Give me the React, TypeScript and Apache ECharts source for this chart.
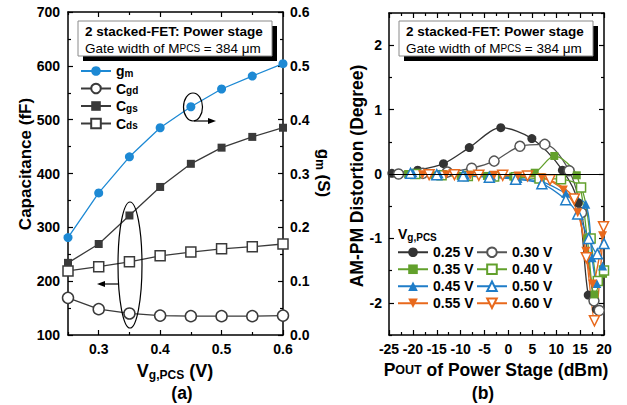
import React, { useEffect, useRef } from "react";
import * as echarts from "echarts";

const FONT = "'Liberation Sans', Arial, Helvetica, sans-serif";

// ---------- Panel (a) data ----------
const vgValues = [0.25, 0.3, 0.35, 0.4, 0.45, 0.5, 0.55, 0.6];
const gmValues = [0.181, 0.264, 0.331, 0.385, 0.424, 0.457, 0.481, 0.504];
const cgdValues = [169, 148, 140, 136, 135, 135, 135, 136];
const cgsValues = [234, 269, 322, 375, 418, 448, 468, 485];
const cdsValues = [219, 227, 236, 247, 254, 260, 264, 269];
const vgMajorTicks = [0.3, 0.4, 0.5, 0.6];
const vgMinorTicks = [0.25, 0.35, 0.45, 0.55];
const legendA = ["gm", "Cgd", "Cgs", "Cds"];

// ---------- Panel (b) data: [Pout (dBm), AM-PM (deg)] ----------
const degMajorTicks = [-2, -1, 0, 1, 2];
const degMinorTicks = [-2.5, -1.5, -0.5, 0.5, 1.5, 2.5];
const legendB = ["0.25 V", "0.30 V", "0.35 V", "0.40 V", "0.45 V", "0.50 V", "0.55 V", "0.60 V"];
const pm025 = [[-24.4, 0.01], [-19, 0.06], [-13.6, 0.16], [-8.2, 0.41], [-1.6, 0.72], [4.9, 0.55], [11.3, 0.06], [14.6, -0.45], [16.7, -1.88], [18.4, -2.1]];
const pm030 = [[-23, 0], [-17.9, 0.01], [-12.8, 0.03], [-7.7, 0.09], [-3, 0.2], [2.4, 0.43], [7.6, 0.46], [12.7, 0.05], [15.3, -0.6], [17.9, -1.97], [19, -2.12]];
const pm035 = [[-21, 0], [-15.5, -0.02], [-10, -0.03], [-4.5, -0.03], [1, -0.04], [5.5, 0.02], [9.6, 0.28], [14.3, -0.02], [16.5, -1.0], [18, -1.87], [19.8, -1.55]];
const pm040 = [[-19.5, 0], [-14, -0.02], [-8.5, -0.03], [-3, -0.04], [1.6, -0.05], [6.5, -0.07], [11, -0.08], [15.2, -0.21], [17.2, -1.0], [18.7, -1.66], [20, -1.5]];
const pm045 = [[-20, 0.02], [-14.5, 0], [-9, -0.02], [-3.5, -0.03], [2, -0.07], [7, -0.12], [12, -0.3], [16.2, -0.47], [17.5, -1.3], [18.5, -1.7], [19.7, -1.43]];
const pm050 = [[-20.5, 0.01], [-15, -0.01], [-9.5, -0.03], [-4, -0.05], [1.5, -0.08], [7, -0.15], [12, -0.4], [14.5, -0.62], [16.8, -1.0], [18.6, -1.24], [20, -1.08]];
const pm055 = [[-18, -0.01], [-13, -0.01], [-8, -0.02], [-3, -0.02], [2, -0.03], [7, -0.06], [11.5, -0.25], [14.5, -0.6], [16.2, -1.2], [17.6, -1.71], [19.7, -0.96]];
const pm060 = [[-16.6, -0.01], [-11.3, -0.01], [-6.2, -0.02], [-1.2, -0.02], [4, -0.03], [8.7, -0.09], [13.8, -0.39], [16.3, -1.3], [18, -2.28], [19.9, -0.82]];

const BLUE_A = "#1d89d4";
const GRAY_A = "#3a3a3a";
const C025 = "#333333";
const C030 = "#555555";
const GREEN = "#62a02c";
const BLUE = "#1f7dc8";
const ORANGE = "#e8691c";
const DOWN_TRI = "path://M0,0L10,0L5,10Z";

function mkLine(name: string, data: number[][], color: string, symbol: string, open: boolean, size: number, xi: number, yi: number, smooth: number | boolean) {
  return {
    type: "line",
    name,
    data,
    xAxisIndex: xi,
    yAxisIndex: yi,
    symbol,
    symbolSize: size,
    smooth,
    showSymbol: true,
    clip: true,
    lineStyle: { color, width: 1.3 },
    itemStyle: open
      ? { color: "#ffffff", borderColor: color, borderWidth: 1.5 }
      : { color, borderColor: color, borderWidth: 0 },
    emphasis: { disabled: true },
  };
}

const axisLineStyle = { color: "#000", width: 1.5 };
const tickLine = { color: "#000", width: 1.2 };
const labelStyle = { color: "#000", fontFamily: FONT, fontWeight: "bold" as const, fontSize: 14 };

export default function App() {
  const ref = useRef<HTMLDivElement>(null);
  useEffect(() => {
    document.body.style.margin = "0";
    if (!ref.current) return;
    const chart = echarts.init(ref.current, undefined, { renderer: "svg" });

    const zipA = (ys: number[]) => vgValues.map((v, i) => [v, ys[i]]);

    const xAxes: any[] = [
      {
        type: "value", gridIndex: 0, position: "bottom", min: 0.25, max: 0.6,
        axisLine: { show: true, onZero: false, lineStyle: axisLineStyle },
        axisTick: { show: true, inside: true, length: 5, customValues: vgMajorTicks, lineStyle: tickLine },
        axisLabel: { show: true, customValues: vgMajorTicks, margin: 7, formatter: (v: number) => v.toFixed(1), ...labelStyle },
        splitLine: { show: false },
      },
      {
        type: "value", gridIndex: 0, position: "bottom", min: 0.25, max: 0.6,
        axisLine: { show: false, onZero: false },
        axisTick: { show: true, inside: true, length: 3, customValues: vgMinorTicks, lineStyle: tickLine },
        axisLabel: { show: false },
        splitLine: { show: false },
      },
      {
        type: "value", gridIndex: 0, position: "top", min: 0.25, max: 0.6,
        axisLine: { show: true, onZero: false, lineStyle: axisLineStyle },
        axisTick: { show: true, inside: true, length: 5, customValues: vgMajorTicks, lineStyle: tickLine },
        axisLabel: { show: false },
        splitLine: { show: false },
      },
      {
        type: "value", gridIndex: 0, position: "top", min: 0.25, max: 0.6,
        axisLine: { show: false, onZero: false },
        axisTick: { show: true, inside: true, length: 3, customValues: vgMinorTicks, lineStyle: tickLine },
        axisLabel: { show: false },
        splitLine: { show: false },
      },
      {
        type: "value", gridIndex: 1, position: "bottom", min: -25, max: 20, interval: 5,
        axisLine: { show: true, onZero: false, lineStyle: axisLineStyle },
        axisTick: { show: true, inside: true, length: 5, lineStyle: tickLine },
        minorTick: { show: true, splitNumber: 2, length: 3, lineStyle: tickLine },
        axisLabel: { show: true, margin: 7, showMinLabel: true, showMaxLabel: true, ...labelStyle },
        splitLine: { show: false },
      },
      {
        type: "value", gridIndex: 1, position: "top", min: -25, max: 20, interval: 5,
        axisLine: { show: true, onZero: false, lineStyle: axisLineStyle },
        axisTick: { show: true, inside: true, length: 5, lineStyle: tickLine },
        minorTick: { show: true, splitNumber: 2, length: 3, lineStyle: tickLine },
        axisLabel: { show: false },
        splitLine: { show: false },
      },
    ];

    const yAxes: any[] = [
      {
        type: "value", gridIndex: 0, position: "left", min: 100, max: 700, interval: 100,
        axisLine: { show: true, onZero: false, lineStyle: axisLineStyle },
        axisTick: { show: true, inside: true, length: 5, lineStyle: tickLine },
        minorTick: { show: true, splitNumber: 2, length: 3, lineStyle: tickLine },
        axisLabel: { show: true, margin: 8, ...labelStyle },
        splitLine: { show: false },
      },
      {
        type: "value", gridIndex: 0, position: "right", min: 0, max: 0.6, interval: 0.1,
        axisLine: { show: true, onZero: false, lineStyle: axisLineStyle },
        axisTick: { show: true, inside: true, length: 5, lineStyle: tickLine },
        minorTick: { show: true, splitNumber: 2, length: 3, lineStyle: tickLine },
        axisLabel: { show: true, margin: 7, formatter: (v: number) => v.toFixed(1), ...labelStyle },
        splitLine: { show: false },
      },
      {
        type: "value", gridIndex: 1, position: "left", min: -2.5, max: 2.5,
        axisLine: { show: true, onZero: false, lineStyle: axisLineStyle },
        axisTick: { show: true, inside: true, length: 5, customValues: degMajorTicks, lineStyle: tickLine },
        axisLabel: { show: true, customValues: degMajorTicks, margin: 7, ...labelStyle },
        splitLine: { show: false },
      },
      {
        type: "value", gridIndex: 1, position: "left", min: -2.5, max: 2.5,
        axisLine: { show: false, onZero: false },
        axisTick: { show: true, inside: true, length: 3, customValues: degMinorTicks, lineStyle: tickLine },
        axisLabel: { show: false },
        splitLine: { show: false },
      },
      {
        type: "value", gridIndex: 1, position: "right", min: -2.5, max: 2.5,
        axisLine: { show: true, onZero: false, lineStyle: axisLineStyle },
        axisTick: { show: true, inside: true, length: 5, customValues: degMajorTicks, lineStyle: tickLine },
        axisLabel: { show: false },
        splitLine: { show: false },
      },
      {
        type: "value", gridIndex: 1, position: "right", min: -2.5, max: 2.5,
        axisLine: { show: false, onZero: false },
        axisTick: { show: true, inside: true, length: 3, customValues: degMinorTicks, lineStyle: tickLine },
        axisLabel: { show: false },
        splitLine: { show: false },
      },
    ];

    const s025: any = mkLine(legendB[0], pm025, C025, "circle", false, 9, 4, 2, 0.3);
    s025.markLine = {
      silent: true, symbol: "none", label: { show: false },
      lineStyle: { color: "#000", width: 1.2, type: "solid" },
      data: [{ yAxis: 0 }],
    };

    const series: any[] = [
      mkLine("Cgd", zipA(cgdValues), GRAY_A, "circle", true, 11, 0, 0, false),
      mkLine("Cgs", zipA(cgsValues), GRAY_A, "rect", false, 8, 0, 0, false),
      mkLine("Cds", zipA(cdsValues), GRAY_A, "rect", true, 10, 0, 0, false),
      mkLine("gm", zipA(gmValues), BLUE_A, "circle", false, 9, 0, 1, false),
      s025,
      mkLine(legendB[1], pm030, C030, "circle", true, 10, 4, 2, 0.3),
      mkLine(legendB[2], pm035, GREEN, "rect", false, 8, 4, 2, 0.3),
      mkLine(legendB[3], pm040, GREEN, "rect", true, 9, 4, 2, 0.3),
      mkLine(legendB[4], pm045, BLUE, "triangle", false, 9, 4, 2, 0.3),
      mkLine(legendB[5], pm050, BLUE, "triangle", true, 10, 4, 2, 0.3),
      mkLine(legendB[6], pm055, ORANGE, DOWN_TRI, false, 9, 4, 2, 0.3),
      mkLine(legendB[7], pm060, ORANGE, DOWN_TRI, true, 10, 4, 2, 0.3),
    ];

    const subRich = {
      b: { fontFamily: FONT, fontWeight: "bold", fontSize: 14, color: "#000", lineHeight: 14 },
      s: { fontFamily: FONT, fontWeight: "bold", fontSize: 10, color: "#000", lineHeight: 9, verticalAlign: "bottom" },
    };

    const titleBox = (x: number) => [
      { type: "rect", shape: { x: x + 5, y: 26, width: 194, height: 35 }, style: { fill: "#000" }, silent: true, z: 10 },
      { type: "rect", shape: { x, y: 21, width: 194, height: 35 }, style: { fill: "#fff", stroke: "#8a8a8a", lineWidth: 1 }, silent: true, z: 11 },
      {
        type: "text", x: x + 7, y: 31, z: 12, silent: true,
        style: { text: "2 stacked-FET: Power stage", fontFamily: FONT, fontWeight: "bold", fontSize: 13.5, fill: "#000", align: "left", verticalAlign: "middle" },
      },
      {
        type: "text", x: x + 7, y: 48, z: 12, silent: true,
        style: {
          text: "{n|Gate width of M}{sc|PCS}{n| = 384 μm}", align: "left", verticalAlign: "middle",
          rich: {
            n: { fontFamily: FONT, fontSize: 13.5, color: "#000", lineHeight: 16 },
            sc: { fontFamily: FONT, fontSize: 10, color: "#000", lineHeight: 16 },
          },
        },
      },
    ];

    const arrowHead = (tipX: number, y: number, dir: number) => ({
      type: "polygon", silent: true, z: 12,
      shape: { points: [[tipX, y], [tipX - dir * 8, y - 3], [tipX - dir * 8, y + 3]] },
      style: { fill: "#000" },
    });

    const graphic: any[] = [
      ...titleBox(78),
      ...titleBox(399),
      { type: "ellipse", silent: true, z: 12, shape: { cx: 193, cy: 107, rx: 9.5, ry: 14 }, style: { fill: "none", stroke: "#000", lineWidth: 1.2 } },
      { type: "line", silent: true, z: 12, shape: { x1: 194, y1: 121, x2: 210, y2: 121 }, style: { stroke: "#000", lineWidth: 1.2 } },
      arrowHead(216, 121, 1),
      { type: "ellipse", silent: true, z: 12, shape: { cx: 130, cy: 265, rx: 12, ry: 63 }, style: { fill: "none", stroke: "#000", lineWidth: 1.2 } },
      { type: "line", silent: true, z: 12, shape: { x1: 118, y1: 284, x2: 103, y2: 284 }, style: { stroke: "#000", lineWidth: 1.2 } },
      arrowHead(97, 284, -1),
      {
        type: "text", x: 25, y: 164, rotation: Math.PI / 2, silent: true,
        style: { text: "Capacitance (fF)", fontFamily: FONT, fontWeight: "bold", fontSize: 17, fill: "#000", align: "center", verticalAlign: "middle" },
      },
      {
        type: "text", x: 323, y: 173, rotation: -Math.PI / 2, silent: true,
        style: {
          text: "{b|g}{s|m}{b| (S)}", align: "center", verticalAlign: "middle",
          rich: {
            b: { fontFamily: FONT, fontWeight: "bold", fontSize: 17, color: "#000", lineHeight: 18 },
            s: { fontFamily: FONT, fontWeight: "bold", fontSize: 12, color: "#000", lineHeight: 10, verticalAlign: "bottom" },
          },
        },
      },
      {
        type: "text", x: 357, y: 176, rotation: Math.PI / 2, silent: true,
        style: { text: "AM-PM Distortion (Degree)", fontFamily: FONT, fontWeight: "bold", fontSize: 17.5, fill: "#000", align: "center", verticalAlign: "middle" },
      },
      {
        type: "text", x: 175, y: 371, silent: true,
        style: {
          text: "{b|V}{s|g,PCS}{b| (V)}", align: "center", verticalAlign: "middle",
          rich: {
            b: { fontFamily: FONT, fontWeight: "bold", fontSize: 18, color: "#000", lineHeight: 20 },
            s: { fontFamily: FONT, fontWeight: "bold", fontSize: 12, color: "#000", lineHeight: 11, verticalAlign: "bottom" },
          },
        },
      },
      {
        type: "text", x: 182, y: 393, silent: true,
        style: { text: "(a)", fontFamily: FONT, fontWeight: "bold", fontSize: 17.5, fill: "#000", align: "center", verticalAlign: "middle" },
      },
      {
        type: "text", x: 496, y: 370, silent: true,
        style: {
          text: "{b|P}{sc|OUT}{b| of Power Stage (dBm)}", align: "center", verticalAlign: "middle",
          rich: {
            b: { fontFamily: FONT, fontWeight: "bold", fontSize: 17.5, color: "#000", lineHeight: 22 },
            sc: { fontFamily: FONT, fontWeight: "bold", fontSize: 12.5, color: "#000", lineHeight: 22 },
          },
        },
      },
      {
        type: "text", x: 483, y: 393, silent: true,
        style: { text: "(b)", fontFamily: FONT, fontWeight: "bold", fontSize: 17.5, fill: "#000", align: "center", verticalAlign: "middle" },
      },
      {
        type: "text", x: 398, y: 234, silent: true,
        style: {
          text: "{b|V}{s|g,PCS}", align: "left", verticalAlign: "middle",
          rich: {
            b: { fontFamily: FONT, fontWeight: "bold", fontSize: 14, color: "#000", lineHeight: 16 },
            s: { fontFamily: FONT, fontWeight: "bold", fontSize: 10, color: "#000", lineHeight: 9, verticalAlign: "bottom" },
          },
        },
      },
    ];

    chart.setOption({
      animation: false,
      backgroundColor: "#ffffff",
      textStyle: { fontFamily: FONT },
      grid: [
        { left: 68, top: 12, width: 215, height: 323, containLabel: false },
        { left: 389, top: 13, width: 215, height: 322, containLabel: false },
      ],
      xAxis: xAxes,
      yAxis: yAxes,
      legend: [
        {
          data: legendA, orient: "vertical", left: 80, top: 64, itemWidth: 30, itemHeight: 12, itemGap: 3.5,
          selectedMode: false, padding: 0,
          formatter: (n: string) => (n === "gm" ? "{b|g}{s|m}" : "{b|C}{s|" + n.slice(1) + "}"),
          textStyle: { rich: subRich },
        },
        {
          data: legendB, orient: "horizontal", left: 397, top: 245, width: 160, itemWidth: 30, itemHeight: 12, itemGap: 2.5,
          selectedMode: false, padding: 0,
          textStyle: { fontFamily: FONT, fontWeight: "bold", fontSize: 14, color: "#000", lineHeight: 14.5 },
        },
      ],
      series,
      graphic,
    });

    return () => chart.dispose();
  }, []);
  return <div ref={ref} style={{ width: 627, height: 405 }} />;
}
